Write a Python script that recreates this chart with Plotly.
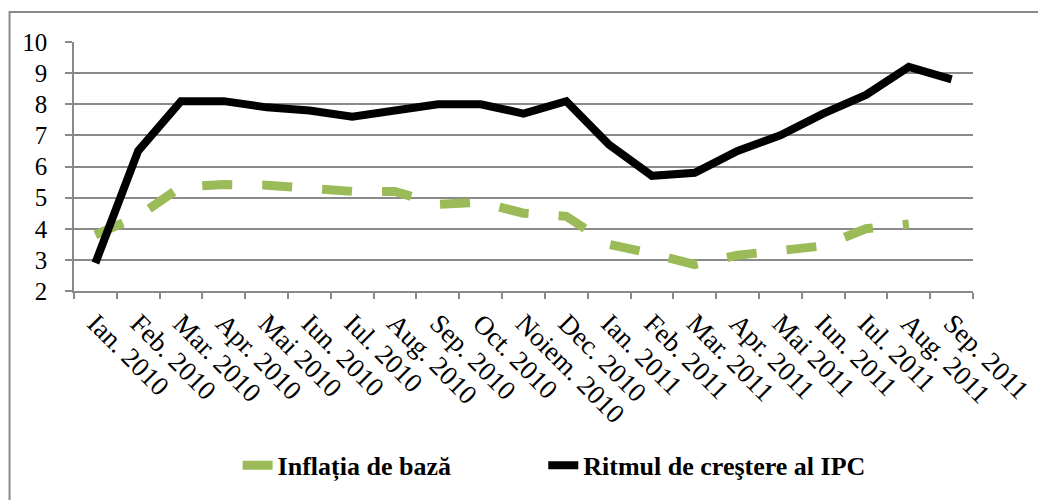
import plotly.graph_objects as go

categories = ["Ian. 2010", "Feb. 2010", "Mar. 2010", "Apr. 2010", "Mai 2010", "Iun. 2010",
              "Iul. 2010", "Aug. 2010", "Sep. 2010", "Oct. 2010", "Noiem. 2010", "Dec. 2010",
              "Ian. 2011", "Feb. 2011", "Mar. 2011", "Apr. 2011", "Mai 2011", "Iun. 2011",
              "Iul. 2011", "Aug. 2011", "Sep. 2011"]
inflatia_de_baza = [3.8, 4.4, 5.35, 5.42, 5.4, 5.3, 5.2, 5.2, 4.78, 4.85, 4.5, 4.4,
                    3.5, 3.2, 2.85, 3.15, 3.3, 3.45, 4.0, 4.15]
ritmul_ipc = [2.9, 6.5, 8.1, 8.1, 7.9, 7.8, 7.6, 7.8, 8.0, 8.0, 7.7, 8.1,
              6.7, 5.7, 5.8, 6.5, 7.0, 7.7, 8.3, 9.2, 8.8]
y_ticks = [2, 3, 4, 5, 6, 7, 8, 9, 10]

FONT = "Times New Roman, Liberation Serif, serif"
GRID = "#8a8a8a"
LEGEND_FONT = dict(family=FONT, size=26, color="black", weight="bold")

fig = go.Figure()
fig.add_trace(go.Scatter(
    x=categories[:len(inflatia_de_baza)], y=inflatia_de_baza, mode="lines",
    name="Inflația de bază", legend="legend",
    line=dict(color="#9bbb59", width=9, dash="30px,30px"),
))
fig.add_trace(go.Scatter(
    x=categories, y=ritmul_ipc, mode="lines",
    name="Ritmul de creştere al IPC", legend="legend2",
    line=dict(color="#000000", width=8),
))

fig.update_layout(
    width=1038, height=492,
    margin=dict(l=66, r=65, t=34, b=208),
    paper_bgcolor="white", plot_bgcolor="white",
    font=dict(family=FONT, size=24, color="black"),
    showlegend=True,
    legend=dict(orientation="h", x=0.182, xanchor="left", y=-0.70, yanchor="middle",
                font=LEGEND_FONT),
    legend2=dict(orientation="h", x=0.522, xanchor="left", y=-0.70, yanchor="middle",
                 font=LEGEND_FONT),
    xaxis=dict(type="category", categoryorder="array", categoryarray=categories,
               tickson="boundaries", ticks="outside", ticklen=6, tickcolor=GRID,
               tickwidth=1.5, showline=True, linecolor=GRID, linewidth=1.5,
               showgrid=False, tickangle=45, ticklabelstandoff=4,
               tickfont=dict(family=FONT, size=27, color="black"),
               range=[-0.5, len(categories) - 0.5]),
    yaxis=dict(range=[2, 10], tickvals=y_ticks, ticks="outside", ticklen=7,
               tickcolor=GRID, tickwidth=1.5, showline=True, linecolor=GRID, linewidth=1.5,
               showgrid=True, gridcolor=GRID, gridwidth=1.5, zeroline=False,
               ticklabelstandoff=13,
               tickfont=dict(family=FONT, size=25, color="black")),
)

fig.add_shape(type="rect", xref="paper", yref="paper",
              x0=-0.0717, x1=1.2, y0=-0.9, y1=1.12,
              line=dict(color=GRID, width=2), fillcolor="rgba(0,0,0,0)", layer="below")

fig.write_html("out.html")
